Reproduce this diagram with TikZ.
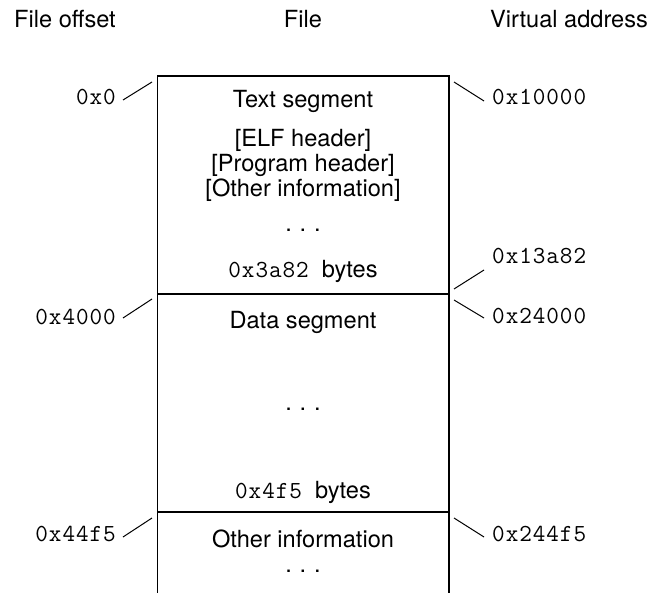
\documentclass[tikz,border=0pt]{standalone}
\usepackage{fontspec}
\setmainfont{TeX Gyre Heros}
\setmonofont{Latin Modern Mono}[LetterSpace=3.8]
\begin{document}
\begin{tikzpicture}[x=1pt,y=-1pt,
  txt/.style={anchor=base,inner sep=0pt,font=\fontsize{23.6}{25}\selectfont},
  lbl/.style={anchor=base east,inner sep=0pt,font=\fontsize{24.5}{25}\selectfont\ttfamily},
  rlbl/.style={anchor=base west,inner sep=0pt,font=\fontsize{24.5}{25}\selectfont\ttfamily},
  boxline/.style={line width=1.3pt,black},
  tick/.style={line width=1pt,black}]
\useasboundingbox (0,0) rectangle (652,593);
% titles
\node[txt] (toff) at (65,28) {File offset};
\node[txt] (tfile) at (303,28) {File};
\node[txt] (tva) at (569,28) {Virtual address};
% file box (open at the bottom)
\draw[boxline] (157.5,593) -- (157.5,76) -- (449,76) -- (449,593);
\draw[boxline] (157.5,294) -- (449,294);
\draw[boxline] (157.5,512) -- (449,512);
% text segment
\node[txt] (ts) at (303,108) {Text segment};
\node[txt] (tselF) at (303,147) {{[}ELF header{]}};
\node[txt] (tsprog) at (303,172) {{[}Program header{]}};
\node[txt] (tsother) at (303,197) {{[}Other information{]}};
\node[txt] (tsdots) at (303,232) {.\,\,.\,\,.};
\node[txt] (tsbytes) at (303,277) {{\fontsize{24.5}{25}\selectfont\ttfamily 0x3a82}\ \ bytes};
% data segment
\node[txt] (ds) at (303,328) {Data segment};
\node[txt] (dsdots) at (303,410) {.\,\,.\,\,.};
\node[txt] (dsbytes) at (303,498) {{\fontsize{24.5}{25}\selectfont\ttfamily 0x4f5}\ \ bytes};
% other information
\node[txt] (oi) at (303,547) {Other information};
\node[txt] (oidots) at (303,572) {.\,\,.\,\,.};
% left labels
\node[lbl] (o0) at (116,105) {0x0};
\node[lbl] (o4000) at (116,324) {0x4000};
\node[lbl] (o44f5) at (116,541) {0x44f5};
% right labels
\node[rlbl] (v10000) at (492,105) {0x10000};
\node[rlbl] (v13a82) at (492,264) {0x13a82};
\node[rlbl] (v24000) at (492,323) {0x24000};
\node[rlbl] (v244f5) at (492,541) {0x244f5};
% tick coordinates
\coordinate (a1) at (123,100); \coordinate (a2) at (152,82);
\coordinate (b1) at (123,318); \coordinate (b2) at (152,299);
\coordinate (c1) at (123,537); \coordinate (c2) at (152,518);
\coordinate (d1) at (454,82);  \coordinate (d2) at (484,101);
\coordinate (e1) at (454,289); \coordinate (e2) at (484,270);
\coordinate (f1) at (454,300); \coordinate (f2) at (484,318);
\coordinate (g1) at (454,518); \coordinate (g2) at (484,537);
\draw[tick] (a1) -- (a2);
\draw[tick] (b1) -- (b2);
\draw[tick] (c1) -- (c2);
\draw[tick] (d1) -- (d2);
\draw[tick] (e1) -- (e2);
\draw[tick] (f1) -- (f2);
\draw[tick] (g1) -- (g2);
\end{tikzpicture}
\end{document}
